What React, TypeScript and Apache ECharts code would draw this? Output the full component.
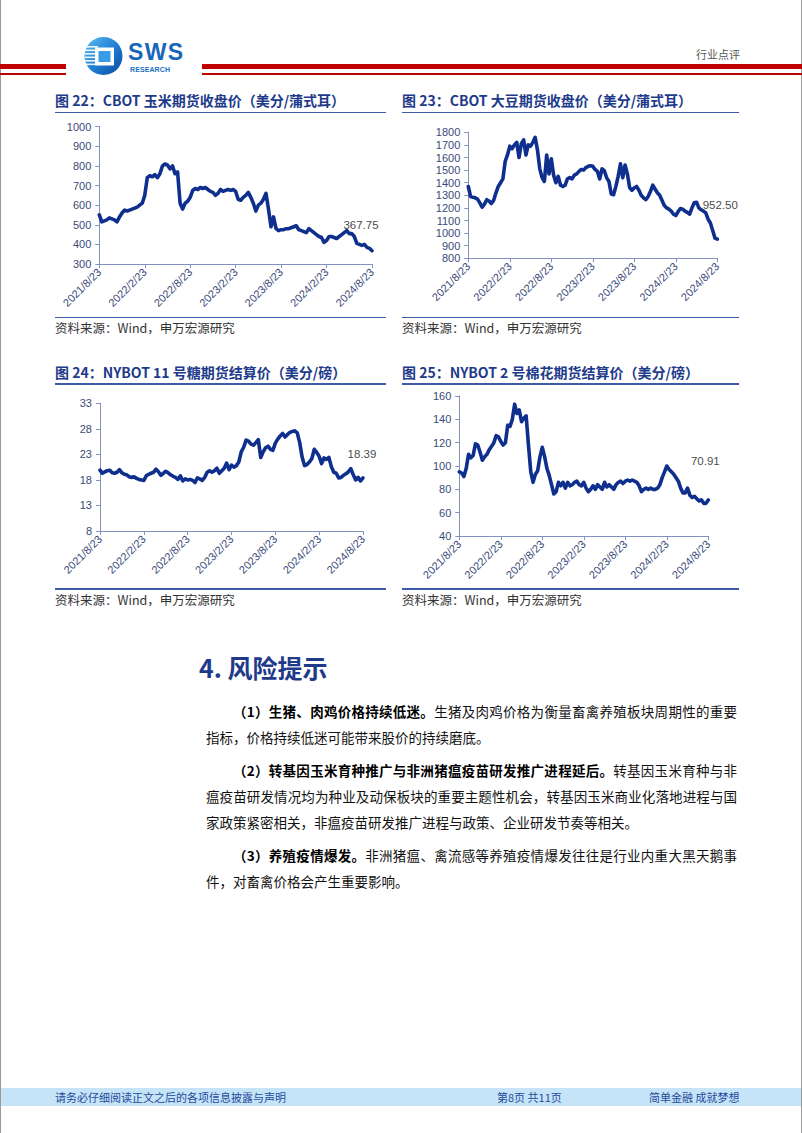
import React, { useEffect, useRef } from "react";
import * as echarts from "echarts";

// ---------- data ----------
const xTickLabels = ["2021/8/23", "2022/2/23", "2022/8/23", "2023/2/23", "2023/8/23", "2024/2/23", "2024/8/23"];

// CBOT corn (US cents / bushel), roughly every 1/3 month from 2021/8/23 to 2024/8/23
const cornValues = [
  550, 515, 520, 525, 535, 530, 525, 515, 540, 560,
  575, 570, 575, 580, 585, 590, 600, 610, 650, 740,
  750, 745, 755, 740, 760, 800, 810, 805, 785, 800,
  760, 770, 610, 580, 610, 620, 640, 675, 685, 680,
  690, 685, 690, 680, 670, 665, 650, 660, 680, 670,
  675, 680, 675, 680, 670, 630, 625, 640, 650, 665,
  640, 610, 570, 600, 610, 630, 660, 580, 490, 540,
  480, 470, 475, 475, 480, 480, 485, 490, 495, 475,
  470, 465, 460, 480, 470, 460, 450, 440, 435, 410,
  420, 440, 440, 435, 430, 440, 450, 460, 470, 455,
  455, 440, 405, 400, 395, 400, 385, 380, 367.75,
];

// CBOT soybean (US cents / bushel)
const soyValues = [
  1370, 1290, 1285, 1280, 1270, 1240, 1205, 1230, 1265, 1255,
  1235, 1260, 1320, 1370, 1400, 1430, 1570, 1620, 1690, 1670,
  1700, 1720, 1600, 1710, 1740, 1620, 1700, 1690, 1720, 1760,
  1660, 1510, 1440, 1410, 1620, 1470, 1590, 1460, 1400, 1450,
  1380, 1370, 1380, 1430, 1440, 1430, 1460, 1470, 1490, 1505,
  1500, 1520, 1530, 1535, 1530, 1505, 1490, 1430, 1510, 1495,
  1440, 1410, 1310, 1305, 1370, 1450, 1550, 1440, 1540, 1470,
  1360, 1340, 1360, 1370, 1340, 1300, 1280, 1265, 1290, 1330,
  1380, 1350, 1320, 1300, 1260, 1220, 1200, 1190, 1175, 1150,
  1140, 1170, 1195, 1190, 1175, 1165, 1150, 1200, 1240, 1245,
  1200, 1185, 1175, 1160, 1110, 1080, 1020, 960, 952.5,
];

// NYBOT No.11 sugar (US cents / lb)
const sugarValues = [
  19.9, 19.3, 19.6, 19.8, 19.9, 19.4, 19.3, 19.5, 20.0, 19.4,
  19.1, 19.0, 18.6, 18.5, 18.6, 18.3, 18.1, 18.0, 17.9, 18.8,
  19.1, 19.3, 19.5, 20.1, 19.6, 18.9, 19.3, 19.7, 19.4, 19.0,
  18.7, 18.5, 18.1, 18.8, 17.8, 18.2, 18.0, 18.1, 17.9, 17.5,
  18.4, 18.2, 17.9, 18.5, 19.5, 19.8, 19.5, 19.8, 20.3, 19.3,
  19.8, 20.3, 21.3, 20.0, 20.9, 20.5, 20.8, 21.5, 23.5, 24.4,
  25.8, 25.6, 25.0, 24.8, 25.3, 25.9, 22.4, 23.5, 24.3, 24.6,
  24.0, 23.8, 25.2, 26.0, 26.6, 27.1, 26.4, 26.9, 27.3, 27.5,
  27.6, 27.2, 25.3, 22.5, 20.8, 21.0, 21.5, 22.2, 24.0, 23.4,
  22.6, 21.2, 22.3, 22.0, 22.4, 20.6, 19.5, 19.3, 18.4, 18.5,
  18.9, 19.2, 19.6, 20.2, 19.0, 18.0, 18.5, 17.8, 18.39,
];

// NYBOT No.2 cotton (US cents / lb)
const cottonValues = [
  95, 94, 91, 98, 110, 107, 109, 119, 118, 112,
  105, 108, 110, 114, 117, 120, 126, 125, 121, 118,
  120, 135, 134, 140, 153, 145, 148, 138, 141, 143,
  118, 95, 86, 93, 96, 108, 116, 108, 98, 92,
  84, 76, 78, 86, 83, 86, 81, 86, 83, 84,
  86, 87, 84, 83, 86, 81, 78, 80, 83, 80,
  84, 82, 80, 86, 82, 84, 82, 80, 84, 86,
  87, 85, 87, 88, 87, 88, 87, 86, 83, 78,
  80, 81, 80, 81, 80, 80, 81, 84, 90, 95,
  100, 97, 95, 93, 90, 87, 81, 77, 77, 81,
  75, 73, 74, 72, 70, 71, 68, 68, 70.91,
];

const lastLabels = ["367.75", "952.50", "18.39", "70.91"];
const yMins = [300, 800, 8, 40];
const yMaxs = [1000, 1800, 33, 160];
const yIntervals = [100, 100, 5, 20];

const chartTitles = [
  "图 22：CBOT 玉米期货收盘价（美分/蒲式耳）",
  "图 23：CBOT 大豆期货收盘价（美分/蒲式耳）",
  "图 24：NYBOT 11 号糖期货结算价（美分/磅）",
  "图 25：NYBOT 2 号棉花期货结算价（美分/磅）",
];
const sourceText = "资料来源：Wind，申万宏源研究";

// ---------- layout ----------
const grids = [
  { left: 99.3, top: 126.7, width: 272.7, height: 137.3 },
  { left: 468.3, top: 132.3, width: 249, height: 126 },
  { left: 100, top: 403.3, width: 263, height: 127.7 },
  { left: 459.3, top: 396, width: 249, height: 140 },
];
const labelOffsets = [
  [-11, -14],
  [3, -23],
  [-1, -12],
  [-3, -27],
];
const blocks = [
  { x: 55, w: 331, titleY: 100, lineY: 111.5, sepY: 316.5, srcY: 328 },
  { x: 402, w: 337, titleY: 100, lineY: 111.5, sepY: 316.5, srcY: 328 },
  { x: 55, w: 331, titleY: 372, lineY: 383, sepY: 588, srcY: 600 },
  { x: 402, w: 337, titleY: 372, lineY: 383, sepY: 588, srcY: 600 },
];

const LATIN = "'Liberation Sans', Arial, sans-serif";
const CJK = "'Noto Sans CJK SC', 'Noto Sans', sans-serif";
const axisColor = "#8191C0";
const tickLabelColor = "#3A4A7A";
const lineColor = "#0E2F8E";
const titleBlue = "#1E3A8A";
const ruleBlue = "#3E5BA9";

function ChartCanvas() {
  const ref = useRef<HTMLDivElement>(null);
  useEffect(() => {
    if (!ref.current) return;
    const chart = echarts.init(ref.current, undefined, { renderer: "svg" });
    const allValues = [cornValues, soyValues, sugarValues, cottonValues];
    const option: any = {
      animation: false,
      grid: grids.map((g) => ({ ...g, containLabel: false })),
      xAxis: grids.map((_, k) => ({
        type: "value",
        gridIndex: k,
        min: 0,
        max: 36,
        interval: 6,
        axisLine: { show: true, onZero: false, lineStyle: { color: axisColor, width: 1 } },
        axisTick: { show: true, length: 4, lineStyle: { color: axisColor } },
        splitLine: { show: false },
        axisLabel: {
          rotate: 45,
          fontSize: 11,
          fontFamily: LATIN,
          color: tickLabelColor,
          margin: 6,
          showMinLabel: true,
          showMaxLabel: true,
          formatter: (v: number) => xTickLabels[Math.round(v / 6)] ?? "",
        },
      })),
      yAxis: grids.map((_, k) => ({
        type: "value",
        gridIndex: k,
        min: yMins[k],
        max: yMaxs[k],
        interval: yIntervals[k],
        axisLine: { show: true, onZero: false, lineStyle: { color: axisColor, width: 1 } },
        axisTick: { show: true, length: 4, lineStyle: { color: axisColor } },
        splitLine: { show: false },
        axisLabel: {
          fontSize: 11,
          fontFamily: LATIN,
          color: tickLabelColor,
          margin: 8,
          formatter: (v: number) => String(v),
        },
      })),
      series: [
        ...allValues.map((vals, k) => ({
          type: "line",
          xAxisIndex: k,
          yAxisIndex: k,
          showSymbol: false,
          symbol: "none",
          lineStyle: { color: lineColor, width: 3.6, join: "round", cap: "round" },
          data: vals.map((v, i) => [(i * 36) / (vals.length - 1), v]),
          silent: true,
        })),
        ...allValues.map((vals, k) => ({
          type: "scatter",
          xAxisIndex: k,
          yAxisIndex: k,
          symbolSize: 1,
          itemStyle: { color: "rgba(0,0,0,0)" },
          label: {
            show: true,
            position: "top",
            offset: labelOffsets[k],
            formatter: () => lastLabels[k],
            fontSize: 11.5,
            fontFamily: LATIN,
            color: "#111",
          },
          data: [[36, vals[vals.length - 1]]],
          silent: true,
        })),
      ],
    };
    chart.setOption(option);
    return () => chart.dispose();
  }, []);
  return (
    <div
      ref={ref}
      style={{ position: "absolute", left: 0, top: 0, width: 802, height: 1133 }}
    />
  );
}

function Logo() {
  return (
    <svg
      style={{ position: "absolute", left: 80, top: 34 }}
      width={112}
      height={44}
      viewBox="0 0 112 44"
    >
      <defs>
        <linearGradient id="swsg" x1="0" y1="0" x2="1" y2="1">
          <stop offset="0" stopColor="#5BC0F2" />
          <stop offset="0.55" stopColor="#1D7BD0" />
          <stop offset="1" stopColor="#0B4A9E" />
        </linearGradient>
      </defs>
      <circle cx={23.5} cy={22} r={19} fill="url(#swsg)" />
      {[12, 15.5, 19, 22.5, 26, 29.5].map((y, i) => (
        <rect key={i} x={5} y={y} width={13} height={1.6} fill="#ffffff" opacity={0.9} />
      ))}
      <rect x={15} y={13.5} width={19} height={18} fill="#ffffff" />
      <rect x={18.5} y={17} width={12} height={11} fill="#3A9BE6" />
      <text
        x={48}
        y={25.5}
        fontSize={23}
        fontWeight={700}
        fill="#1766B8"
        fontFamily={LATIN}
        textLength={55}
      >
        SWS
      </text>
      <text
        x={50}
        y={37.5}
        fontSize={7}
        fontWeight={700}
        fill="#1A6FC0"
        fontFamily={LATIN}
        textLength={40}
      >
        RESEARCH
      </text>
    </svg>
  );
}

const abs = (s: React.CSSProperties): React.CSSProperties => ({ position: "absolute", ...s });

const paraLines: { y: number; indent: boolean; full: boolean; bold: string; rest: string }[] = [
  { y: 711, indent: true, full: true, bold: "（1）生猪、肉鸡价格持续低迷。", rest: "生猪及肉鸡价格为衡量畜禽养殖板块周期性的重要" },
  { y: 737, indent: false, full: false, bold: "", rest: "指标，价格持续低迷可能带来股价的持续磨底。" },
  { y: 770, indent: true, full: true, bold: "（2）转基因玉米育种推广与非洲猪瘟疫苗研发推广进程延后。", rest: "转基因玉米育种与非" },
  { y: 796, indent: false, full: true, bold: "", rest: "瘟疫苗研发情况均为种业及动保板块的重要主题性机会，转基因玉米商业化落地进程与国" },
  { y: 822, indent: false, full: false, bold: "", rest: "家政策紧密相关，非瘟疫苗研发推广进程与政策、企业研发节奏等相关。" },
  { y: 855, indent: true, full: true, bold: "（3）养殖疫情爆发。", rest: "非洲猪瘟、禽流感等养殖疫情爆发往往是行业内重大黑天鹅事" },
  { y: 881, indent: false, full: false, bold: "", rest: "件，对畜禽价格会产生重要影响。" },
];

export default function App() {
  return (
    <div
      style={{
        position: "absolute",
        left: 0,
        top: 0,
        width: 802,
        height: 1133,
        background: "#ffffff",
        overflow: "hidden",
        fontFamily: CJK,
      }}
    >
      <ChartCanvas />

      {/* page border */}
      <div style={abs({ left: 0, top: 0, width: 1, height: 1133, background: "#9a9a9a" })} />
      <div style={abs({ left: 801, top: 0, width: 1, height: 1133, background: "#9a9a9a" })} />

      {/* header */}
      <Logo />
      <div style={abs({ left: 0, top: 64, width: 66, height: 5, background: "#C00000" })} />
      <div style={abs({ left: 202, top: 64, width: 600, height: 5, background: "#C00000" })} />
      <div style={abs({ left: 0, top: 73, width: 66, height: 1.5, background: "#C00000" })} />
      <div style={abs({ left: 202, top: 73, width: 600, height: 1.5, background: "#C00000" })} />
      <div style={abs({ left: 696, top: 46, fontSize: 11, lineHeight: "16px", color: "#555" })}>行业点评</div>

      {/* chart titles, rules, sources */}
      {blocks.map((b, k) => (
        <React.Fragment key={k}>
          <div
            style={abs({
              left: b.x,
              top: b.titleY - 10,
              fontSize: 14,
              lineHeight: "20px",
              fontWeight: 700,
              color: titleBlue,
              whiteSpace: "nowrap",
            })}
          >
            {chartTitles[k]}
          </div>
          <div style={abs({ left: b.x, top: b.lineY, width: b.w, height: 1.5, background: ruleBlue })} />
          <div style={abs({ left: b.x, top: b.sepY, width: b.w, height: 1.5, background: ruleBlue })} />
          <div
            style={abs({
              left: b.x,
              top: b.srcY - 9,
              fontSize: 12.5,
              lineHeight: "18px",
              color: "#333",
              whiteSpace: "nowrap",
            })}
          >
            {sourceText}
          </div>
        </React.Fragment>
      ))}

      {/* section heading */}
      <div
        style={abs({
          left: 199,
          top: 650,
          fontSize: 25,
          lineHeight: "34px",
          fontWeight: 700,
          color: titleBlue,
          whiteSpace: "nowrap",
        })}
      >
        4. 风险提示
      </div>

      {/* paragraphs */}
      {paraLines.map((l, i) => (
        <div
          key={i}
          style={abs({
            left: 206,
            top: l.y - 12,
            width: 531,
            fontSize: 13.5,
            lineHeight: "24px",
            color: "#111",
            textIndent: l.indent ? 27 : 0,
            textAlign: "justify",
            textAlignLast: l.full ? "justify" : "left",
          } as React.CSSProperties)}
        >
          {l.bold ? <span style={{ fontWeight: 700, color: "#000" }}>{l.bold}</span> : null}
          {l.rest}
        </div>
      ))}

      {/* footer */}
      <div style={abs({ left: 1, top: 1088, width: 800, height: 18, background: "#C6E4F7" })} />
      <div style={abs({ left: 55, top: 1089, fontSize: 11, lineHeight: "16px", color: "#1F4A9C", whiteSpace: "nowrap" })}>
        请务必仔细阅读正文之后的各项信息披露与声明
      </div>
      <div style={abs({ left: 497, top: 1089, fontSize: 11, lineHeight: "16px", color: "#1F4A9C", whiteSpace: "nowrap" })}>
        第8页 共11页
      </div>
      <div style={abs({ left: 649, top: 1089, fontSize: 11, lineHeight: "16px", color: "#1F4A9C", whiteSpace: "nowrap" })}>
        简单金融 成就梦想
      </div>
    </div>
  );
}
